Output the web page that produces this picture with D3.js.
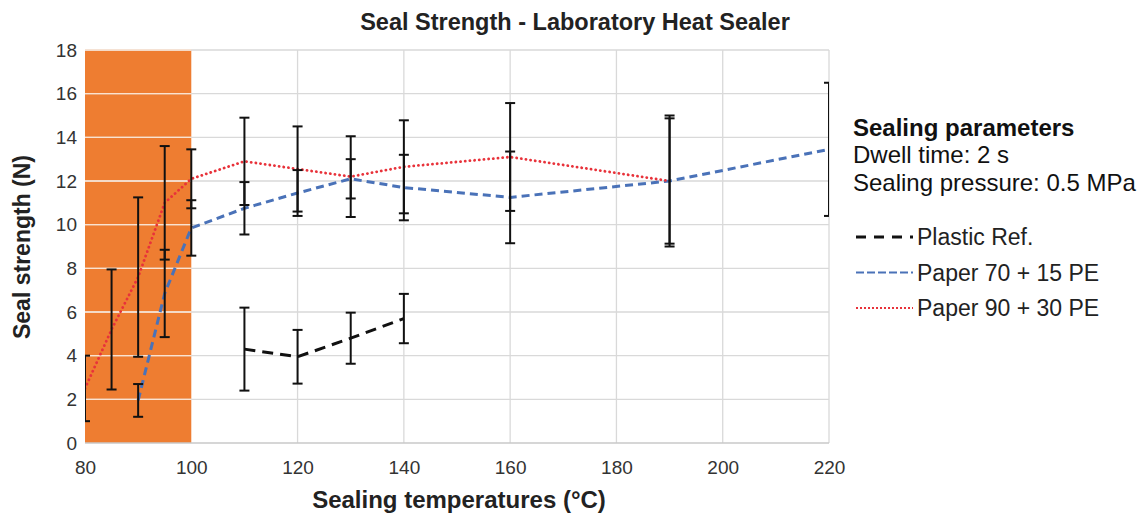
<!DOCTYPE html>
<html>
<head>
<meta charset="utf-8">
<script src="https://cdn.jsdelivr.net/npm/d3@7"></script>
<style>
  html, body { margin: 0; padding: 0; background: #ffffff; }
  svg { display: block; font-family: "Liberation Sans", Arial, sans-serif; }
</style>
</head>
<body>
<svg id="chart" width="1143" height="516"></svg>
<script>
// ---- data ----
const xTicks = [80, 100, 120, 140, 160, 180, 200, 220];
const yTicks = [0, 2, 4, 6, 8, 10, 12, 14, 16, 18];
const shadedRange = [80, 100];

const plasticTemps = [110, 120, 130, 140];
const plasticValues = [4.3, 3.95, 4.8, 5.7];
const plasticErrors = [1.9, 1.23, 1.17, 1.13];

const paper70Temps = [90, 95, 100, 110, 120, 130, 140, 160, 190, 220];
const paper70Values = [1.95, 6.85, 9.85, 10.75, 11.45, 12.1, 11.7, 11.25, 12.0, 13.45];
const paper70Errors = [0.75, 2.0, 1.27, 1.2, 1.05, 0.9, 1.5, 2.1, 2.87, 3.05];

const paper90Temps = [80, 85, 90, 95, 100, 110, 120, 130, 140, 160, 190];
const paper90Values = [2.5, 5.2, 7.6, 11.0, 12.1, 12.9, 12.55, 12.2, 12.65, 13.1, 12.0];
const paper90Errors = [1.5, 2.75, 3.65, 2.6, 1.35, 2.0, 1.95, 1.85, 2.13, 2.47, 3.0];

const seriesNames = ["Plastic Ref.", "Paper 70 + 15 PE", "Paper 90 + 30 PE"];
const titleText = "Seal Strength - Laboratory Heat Sealer";
const xTitle = "Sealing temperatures (°C)";
const yTitle = "Seal strength (N)";
const noteLines = ["Sealing parameters", "Dwell time: 2 s", "Sealing pressure: 0.5 MPa"];

// ---- build ----
const series = [
  { name: seriesNames[0], t: plasticTemps, v: plasticValues, e: plasticErrors,
    color: "#111111", dash: "11,7", width: 3, cap: "butt", legDash: "10,8", legW: 3 },
  { name: seriesNames[1], t: paper70Temps, v: paper70Values, e: paper70Errors,
    color: "#4a72b8", dash: "8,5", width: 3, cap: "butt", legDash: "8,3", legW: 2 },
  { name: seriesNames[2], t: paper90Temps, v: paper90Values, e: paper90Errors,
    color: "#e8323a", dash: "0.1,4.6", width: 2.8, cap: "round", legDash: "2,2", legW: 2 }
];

const svg = d3.select("#chart");
const x = d3.scaleLinear().domain([80, 220]).range([85, 829]);
const y = d3.scaleLinear().domain([0, 18]).range([443, 50]);

svg.append("defs").append("clipPath").attr("id", "plotclip")
  .append("rect")
  .attr("x", x(80)).attr("y", y(18) - 10)
  .attr("width", x(220) - x(80)).attr("height", y(0) - y(18) + 20);

// shaded region
svg.append("rect")
  .attr("x", x(shadedRange[0])).attr("y", y(18))
  .attr("width", x(shadedRange[1]) - x(shadedRange[0]))
  .attr("height", y(0) - y(18))
  .attr("fill", "#ee7d31");

// gridlines horizontal
const grid = svg.append("g");
grid.selectAll("line.h").data(yTicks.filter(d => d > 0)).join("line")
  .attr("x1", x(80)).attr("x2", x(220))
  .attr("y1", d => y(d)).attr("y2", d => y(d))
  .attr("stroke", "#d9d9d9").attr("stroke-width", 1.3);
grid.selectAll("line.hs").data(yTicks.filter(d => d > 0)).join("line")
  .attr("x1", x(shadedRange[0])).attr("x2", x(shadedRange[1]))
  .attr("y1", d => y(d)).attr("y2", d => y(d))
  .attr("stroke", "#fbe2cf").attr("stroke-width", 1.3);
grid.selectAll("line.v").data(xTicks.filter(d => d > 100)).join("line")
  .attr("x1", d => x(d)).attr("x2", d => x(d))
  .attr("y1", y(18)).attr("y2", y(0))
  .attr("stroke", "#d9d9d9").attr("stroke-width", 1.3);
svg.append("line")
  .attr("x1", x(80)).attr("x2", x(220)).attr("y1", y(0)).attr("y2", y(0))
  .attr("stroke", "#c8c8c8").attr("stroke-width", 1.3);

// axes labels via d3 axes
const xAxis = svg.append("g").attr("transform", `translate(0,${y(0)})`)
  .call(d3.axisBottom(x).tickValues(xTicks).tickSize(0).tickPadding(18));
xAxis.select(".domain").remove();
xAxis.selectAll("text").attr("font-size", 19).attr("fill", "#333")
  .attr("font-family", "Liberation Sans, Arial, sans-serif");

const yAxis = svg.append("g").attr("transform", `translate(${x(80)},0)`)
  .call(d3.axisLeft(y).tickValues(yTicks).tickSize(0).tickPadding(8));
yAxis.select(".domain").remove();
yAxis.selectAll("text").attr("font-size", 19).attr("fill", "#333")
  .attr("font-family", "Liberation Sans, Arial, sans-serif");

// lines
const plot = svg.append("g").attr("clip-path", "url(#plotclip)");
const lineGen = d3.line().curve(d3.curveLinear);
series.forEach(s => {
  const pts = s.t.map((t, i) => [x(t), y(s.v[i])]);
  plot.append("path")
    .attr("d", lineGen(pts))
    .attr("fill", "none")
    .attr("stroke", s.color)
    .attr("stroke-width", s.width)
    .attr("stroke-dasharray", s.dash)
    .attr("stroke-linecap", s.cap);
});

// error bars
const capW = 5;
series.forEach(s => {
  s.t.forEach((t, i) => {
    const cx = x(t), top = y(s.v[i] + s.e[i]), bot = y(s.v[i] - s.e[i]);
    const g = plot.append("g").attr("stroke", "#111").attr("stroke-width", 2);
    g.append("line").attr("x1", cx).attr("x2", cx).attr("y1", top).attr("y2", bot);
    g.append("line").attr("x1", cx - capW).attr("x2", cx + capW).attr("y1", top).attr("y2", top);
    g.append("line").attr("x1", cx - capW).attr("x2", cx + capW).attr("y1", bot).attr("y2", bot);
  });
});

// title
svg.append("text")
  .attr("x", 575).attr("y", 30)
  .attr("text-anchor", "middle")
  .attr("font-size", 23.5).attr("font-weight", "bold").attr("fill", "#222")
  .text(titleText);

// axis titles
svg.append("text")
  .attr("x", 459).attr("y", 508)
  .attr("text-anchor", "middle")
  .attr("font-size", 24).attr("font-weight", "bold").attr("fill", "#222")
  .text(xTitle);

svg.append("text")
  .attr("transform", "translate(30,247) rotate(-90)")
  .attr("text-anchor", "middle")
  .attr("font-size", 23).attr("font-weight", "bold").attr("fill", "#222")
  .text(yTitle);

// notes
const notes = svg.append("g");
noteLines.forEach((t, i) => {
  notes.append("text")
    .attr("x", 853).attr("y", 135.5 + i * 27.5)
    .attr("font-size", 24)
    .attr("font-weight", i === 0 ? "bold" : "normal")
    .attr("fill", "#111")
    .text(t);
});

// legend
const legend = svg.append("g");
series.forEach((s, i) => {
  const ly = 237 + i * 35.5;
  legend.append("line")
    .attr("x1", 856).attr("x2", 913).attr("y1", ly).attr("y2", ly)
    .attr("stroke", s.color)
    .attr("stroke-width", s.legW)
    .attr("stroke-dasharray", s.legDash);
  legend.append("text")
    .attr("x", 917).attr("y", ly + 8)
    .attr("font-size", 23).attr("fill", "#222")
    .text(s.name);
});
</script>
</body>
</html>
